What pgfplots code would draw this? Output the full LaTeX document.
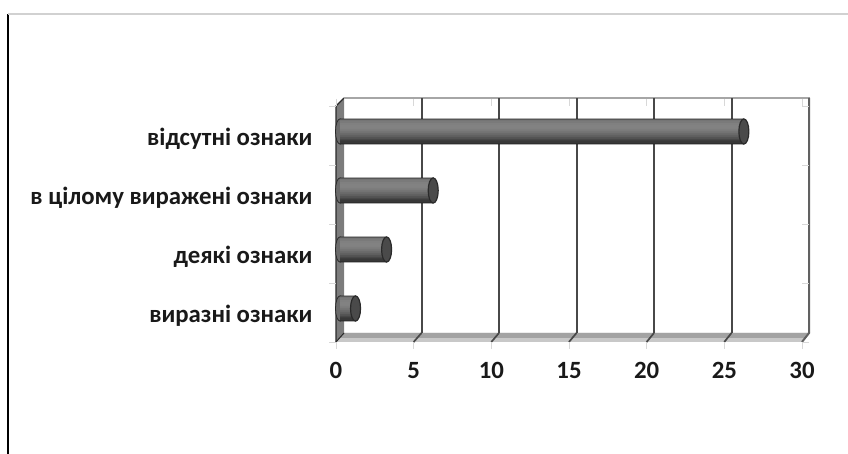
\documentclass[border=0pt]{standalone}
\usepackage{fontspec}
\setmainfont{Carlito}[Numbers=Lining]
\usepackage{pgfplots}
\usepackage{pgfplotstable}
\pgfplotsset{compat=1.18}

\definecolor{edge}{HTML}{2A2A2A}
\definecolor{gridc}{HTML}{484848}
\definecolor{wallc}{HTML}{7C7C7C}
\definecolor{floorc}{HTML}{C8C8C8}
\definecolor{tickc}{HTML}{D8D8D8}
\definecolor{capc}{HTML}{4A4A4A}

\pgfdeclareplotmark{cylstart}{
  \pgfpathellipse{\pgfpointorigin}{\pgfqpoint{4.5pt}{0pt}}{\pgfqpoint{0pt}{12.6pt}}
  \pgfusepath{fill,stroke}}
\pgfdeclareplotmark{cylend}{
  \pgfpathellipse{\pgfpointorigin}{\pgfqpoint{5pt}{0pt}}{\pgfqpoint{0pt}{12.6pt}}
  \pgfusepath{fill,stroke}}

\pgfplotstableread{
pos val zero
0 1 0
1 3 0
2 6 0
3 26 0
}\cyldata

% one band of a cylinder, painted top down so that each overlaps the one above
\newcommand\band[2]{\addplot[xbar,bar width=3.2pt,bar shift=#1pt,draw=none,fill=black!#2,forget plot]
  table[x=val,y=pos] {\cyldata};}

\begin{document}
\begin{tikzpicture}[x=1pt,y=1pt]
\path[use as bounding box] (0,0) rectangle (848,454);

% page frame
\draw[black,line width=1.2pt] (8,0) -- (8,440);
\draw[black!18,line width=1.2pt] (8,440) -- (848,440);

% floor and side wall
\fill[floorc] (336,112) -- (802,112) -- (810,121) -- (344,121) -- cycle;
\fill[black!36] (340,116) -- (806,116) -- (810,121) -- (344,121) -- cycle;
\fill[wallc] (336,112) -- (344,121) -- (344,356) -- (336,348) -- cycle;
\draw[edge,line width=1.3pt] (336,112) -- (336,348) -- (344,356);
\draw[edge,line width=1pt] (336,112) -- (344,121);
\draw[black!35,line width=1.8pt] (344,356) -- (810,356);
\draw[black!62,line width=2pt] (809,356) -- (809,121) -- (802,112);
\foreach \g in {5,10,...,25}
  \draw[gridc,line width=1.7pt] ({336+\g*15.53},112) -- ({344+\g*15.5},121);

% back wall grid
\begin{axis}[
  at={(344pt,121pt)},anchor=south west,
  scale only axis,width=465pt,height=235pt,
  xmin=0,xmax=30,ymin=0,ymax=1,
  xtick={5,10,...,25},ytick=\empty,
  xticklabels={},
  major tick length=0pt,
  axis line style={draw=none},
  xmajorgrids,
  grid style={gridc,line width=2pt},
]
\addplot[draw=none] coordinates {(0,0) (30,1)};
\end{axis}

% front plane: ticks and labels
\begin{axis}[
  at={(336pt,112pt)},anchor=south west,
  scale only axis,width=466pt,height=236pt,
  xmin=0,xmax=30,ymin=-0.5,ymax=3.5,
  xtick={0,5,...,30},
  minor xtick={0,5,...,30},
  ytick={0,1,2,3},
  yticklabels={виразні ознаки,деякі ознаки,в цілому виражені ознаки,відсутні ознаки},
  minor ytick={-0.5,0.5,1.5,2.5,3.5},
  axis line style={draw=none},
  tick style={tickc,line width=0.8pt},
  tick align=outside,
  major tick length=0pt,
  minor tick length=7pt,
  /pgf/number format/assume math mode=true,
  tick label style={font=\bfseries\fontsize{24.8}{28}\selectfont,text=black!90},
  yticklabel style={xshift=-20pt,yshift=-3pt},
  xticklabel style={text height=16pt,text depth=0pt,yshift=-17pt},
]
\addplot[draw=none] coordinates {(0,0) (30,3)};
\end{axis}

% rounded left ends of the cylinders
\begin{axis}[
  at={(340pt,116pt)},anchor=south west,
  scale only axis,width=466pt,height=236pt,
  xmin=0,xmax=30,ymin=-0.5,ymax=3.5,
  hide axis,clip=false,
]
\addplot[only marks,mark=cylstart,
  mark options={draw=edge,fill=black!58,line width=0.8pt}] table[x=zero,y=pos] {\cyldata};
\end{axis}

% cylinder bodies and their end caps
\begin{axis}[
  at={(340pt,116pt)},anchor=south west,
  scale only axis,width=466pt,height=236pt,
  xmin=0,xmax=30,ymin=-0.5,ymax=3.5,
  hide axis,clip=false,
]
\addplot[xbar,bar width=25.6pt,bar shift=0pt,draw=none,fill=black!88,forget plot]
  table[x=val,y=pos] {\cyldata};
\band{10.6}{54}
\band{9}{52}
\band{7}{50}
\band{5}{49}
\band{3}{49}
\band{1}{51}
\band{-1}{54}
\band{-3}{58}
\band{-5}{62}
\band{-7}{67}
\band{-9}{72}
\band{-10.6}{78}
\addplot[only marks,mark=cylend,
  mark options={draw=edge,fill=capc,line width=1.2pt}] table[x=val,y=pos] {\cyldata};
\end{axis}
\end{tikzpicture}
\end{document}
